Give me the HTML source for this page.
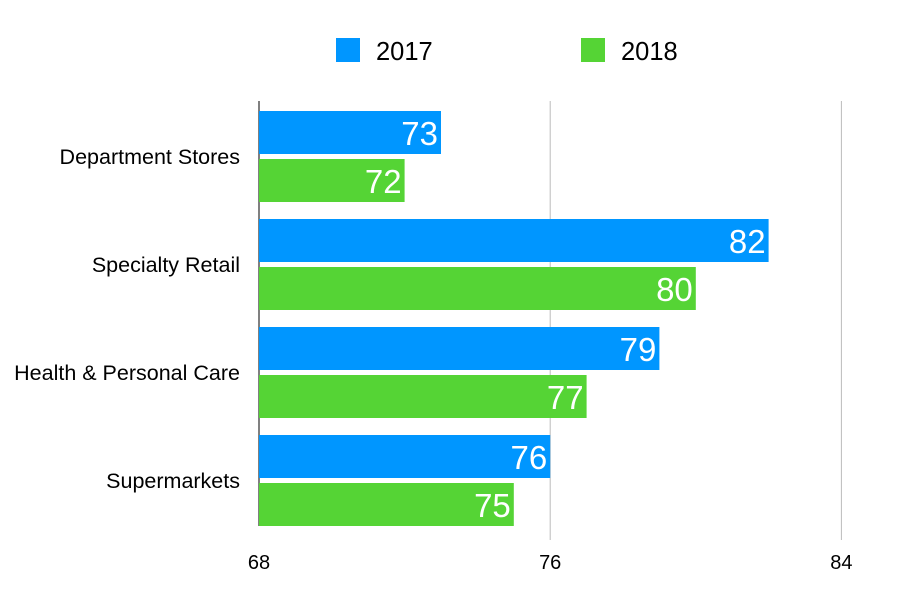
<!DOCTYPE html>
<html><head><meta charset="utf-8"><style>
body{margin:0;background:#fff;}
svg{display:block;font-family:"Liberation Sans",Arial,sans-serif;}
</style></head><body>
<svg id="chart" width="900" height="600">
<g id="legend">
<rect x="336" y="38" width="24" height="24" fill="#0096ff"/>
<text x="376" y="60" font-size="25.5" fill="#000">2017</text>
<rect x="581" y="38" width="24" height="24" fill="#55d435"/>
<text x="621" y="60" font-size="25.5" fill="#000">2018</text>
</g>
<g id="grid"></g>
<g id="bars"></g>
<g id="labels"></g>
</svg>
<script>
const categories=["Department Stores","Specialty Retail","Health & Personal Care","Supermarkets"];
const values2017=[73,82,79,76];
const values2018=[72,80,77,75];
const ticks=[68,76,84];
const NS="http://www.w3.org/2000/svg";
const x0=259,xScale=36.4,xMin=68,top0=103,band=108;
function xs(v){return x0+(v-xMin)*xScale;}
function mk(tag,attrs,parent){const e=document.createElementNS(NS,tag);for(const k in attrs)e.setAttribute(k,attrs[k]);document.getElementById(parent).appendChild(e);return e;}
ticks.forEach((t,i)=>{
 const l=mk('line',{x1:xs(t),x2:xs(t),y1:101,y2:i==0?526:540,stroke:i==0?'#000':'#bbb','stroke-width':1},'grid');
 
 
 const tx=mk('text',{x:xs(t),y:569,'text-anchor':'middle','font-size':20},'labels');
 tx.textContent=t;
 
 
});
categories.forEach((c,i)=>{
 const y=top0+i*band;
 const cl=mk('text',{x:240,y:y+61,'text-anchor':'end','font-size':21.5},'labels');
 cl.textContent=c;
 
 
 [[values2017[i],'#0096ff',8,'2017'],[values2018[i],'#55d435',56,'2018']].forEach(([v,col,off,yr])=>{
  const r=mk('rect',{x:x0,y:y+off,width:xs(v)-x0,height:43,fill:col},'bars');
  
  
  const t=mk('text',{x:xs(v)-3,y:y+off+34,'text-anchor':'end','font-size':33,fill:'#fff'},'labels');
  t.textContent=v;
  
  
 });
});
</script>
</body></html>
